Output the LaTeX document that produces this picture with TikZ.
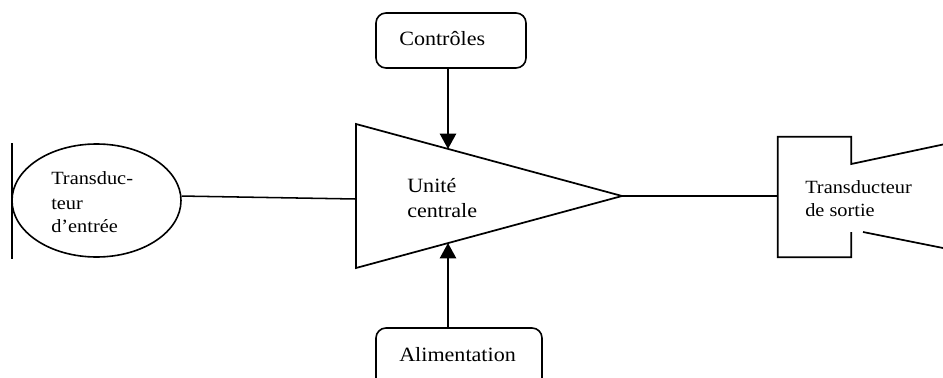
\documentclass[tikz,border=0pt]{standalone}
\usepackage{fontspec}
\setmainfont[FakeStretch=1.09]{Liberation Serif}
\usetikzlibrary{arrows.meta,shapes.geometric}
\tikzset{
  wire/.style={draw=black,line width=1.3pt},
  thin wire/.style={draw=black,line width=1.15pt},
  feed/.style={draw=black,line width=1.9pt,-{Triangle[length=11.5pt,width=12pt]},shorten >=0pt},
  roundbox/.style={draw=black,line width=1.2pt,rounded corners=7.5pt,rectangle,inner sep=0pt},
  label/.style={inner sep=0pt,anchor=base west,text=black,font=\fontsize{15.2pt}{18pt}\selectfont},
  small label/.style={inner sep=0pt,anchor=base west,text=black,font=\fontsize{14pt}{17pt}\selectfont},
}
\begin{document}
\begin{tikzpicture}[x=0.75pt,y=-0.75pt]
\useasboundingbox (0,0) rectangle (943,378);
\clip (0,0) rectangle (943,378);
% input transducer
\node[ellipse,draw=black,line width=1.2pt,inner sep=0pt,minimum width=126.75pt,minimum height=84.75pt] (ell) at (96.5,200.5) {};
\coordinate (barT) at (12,143);
\coordinate (barB) at (12,259);
\draw[wire] (barT) -- (barB);
% amplifier
\coordinate (triT) at (356,124);
\coordinate (triB) at (356,268);
\coordinate (apex) at (622,196);
\coordinate (triIn) at (356,199);
\draw[wire,line join=miter] (triT) -- (apex) -- (triB) -- cycle;
% output transducer
\node[rectangle,inner sep=0pt,minimum width=54.75pt,minimum height=90pt] (spk) at (814.5,197) {};
\coordinate (hornUa) at (spk.east |- 0,164);
\coordinate (hornLa) at (spk.east |- 0,232);
\coordinate (hornUb) at (943,144.5);
\coordinate (hornLa2) at (863,232);
\coordinate (hornLb) at (943,248);
\draw[wire] (hornUb) -- (hornUa) -- (spk.north east) -- (spk.north west) -- (spk.south west) -- (spk.south east) -- (hornLa);
\draw[wire] (hornLa2) -- (hornLb);
% boxes
\node[roundbox,minimum width=112.5pt,minimum height=41.25pt] (ctrl) at (451,40.5) {};
\node[roundbox,minimum width=124.5pt,minimum height=46.5pt] (alim) at (459,359) {};
\coordinate (ctrlTip) at (448,149);
\coordinate (alimTip) at (448,243);
\draw[feed] (ctrlTip |- ctrl.south) -- (ctrlTip);
\draw[feed] (alimTip |- alim.north) -- (alimTip);
% links
\draw[thin wire] (ell.3) -- (triIn);
\draw[thin wire] (apex) -- (apex -| spk.west);
% texts
\node[label] (tCtrl) at (399,46) {Contrôles};
\node[label] (tAlim) at (399,361) {Alimentation};
\node[label] (tU1) at (407,192) {Unité};
\node[label] (tU2) at (407,217) {centrale};
\node[small label] (tE1) at (51,185) {Transduc-};
\node[small label] (tE2) at (51,209) {teur};
\node[small label] (tE3) at (51,232) {d’entrée};
\node[small label] (tS1) at (805,193) {Transducteur};
\node[small label] (tS2) at (805,216) {de sortie};
\end{tikzpicture}
\end{document}
